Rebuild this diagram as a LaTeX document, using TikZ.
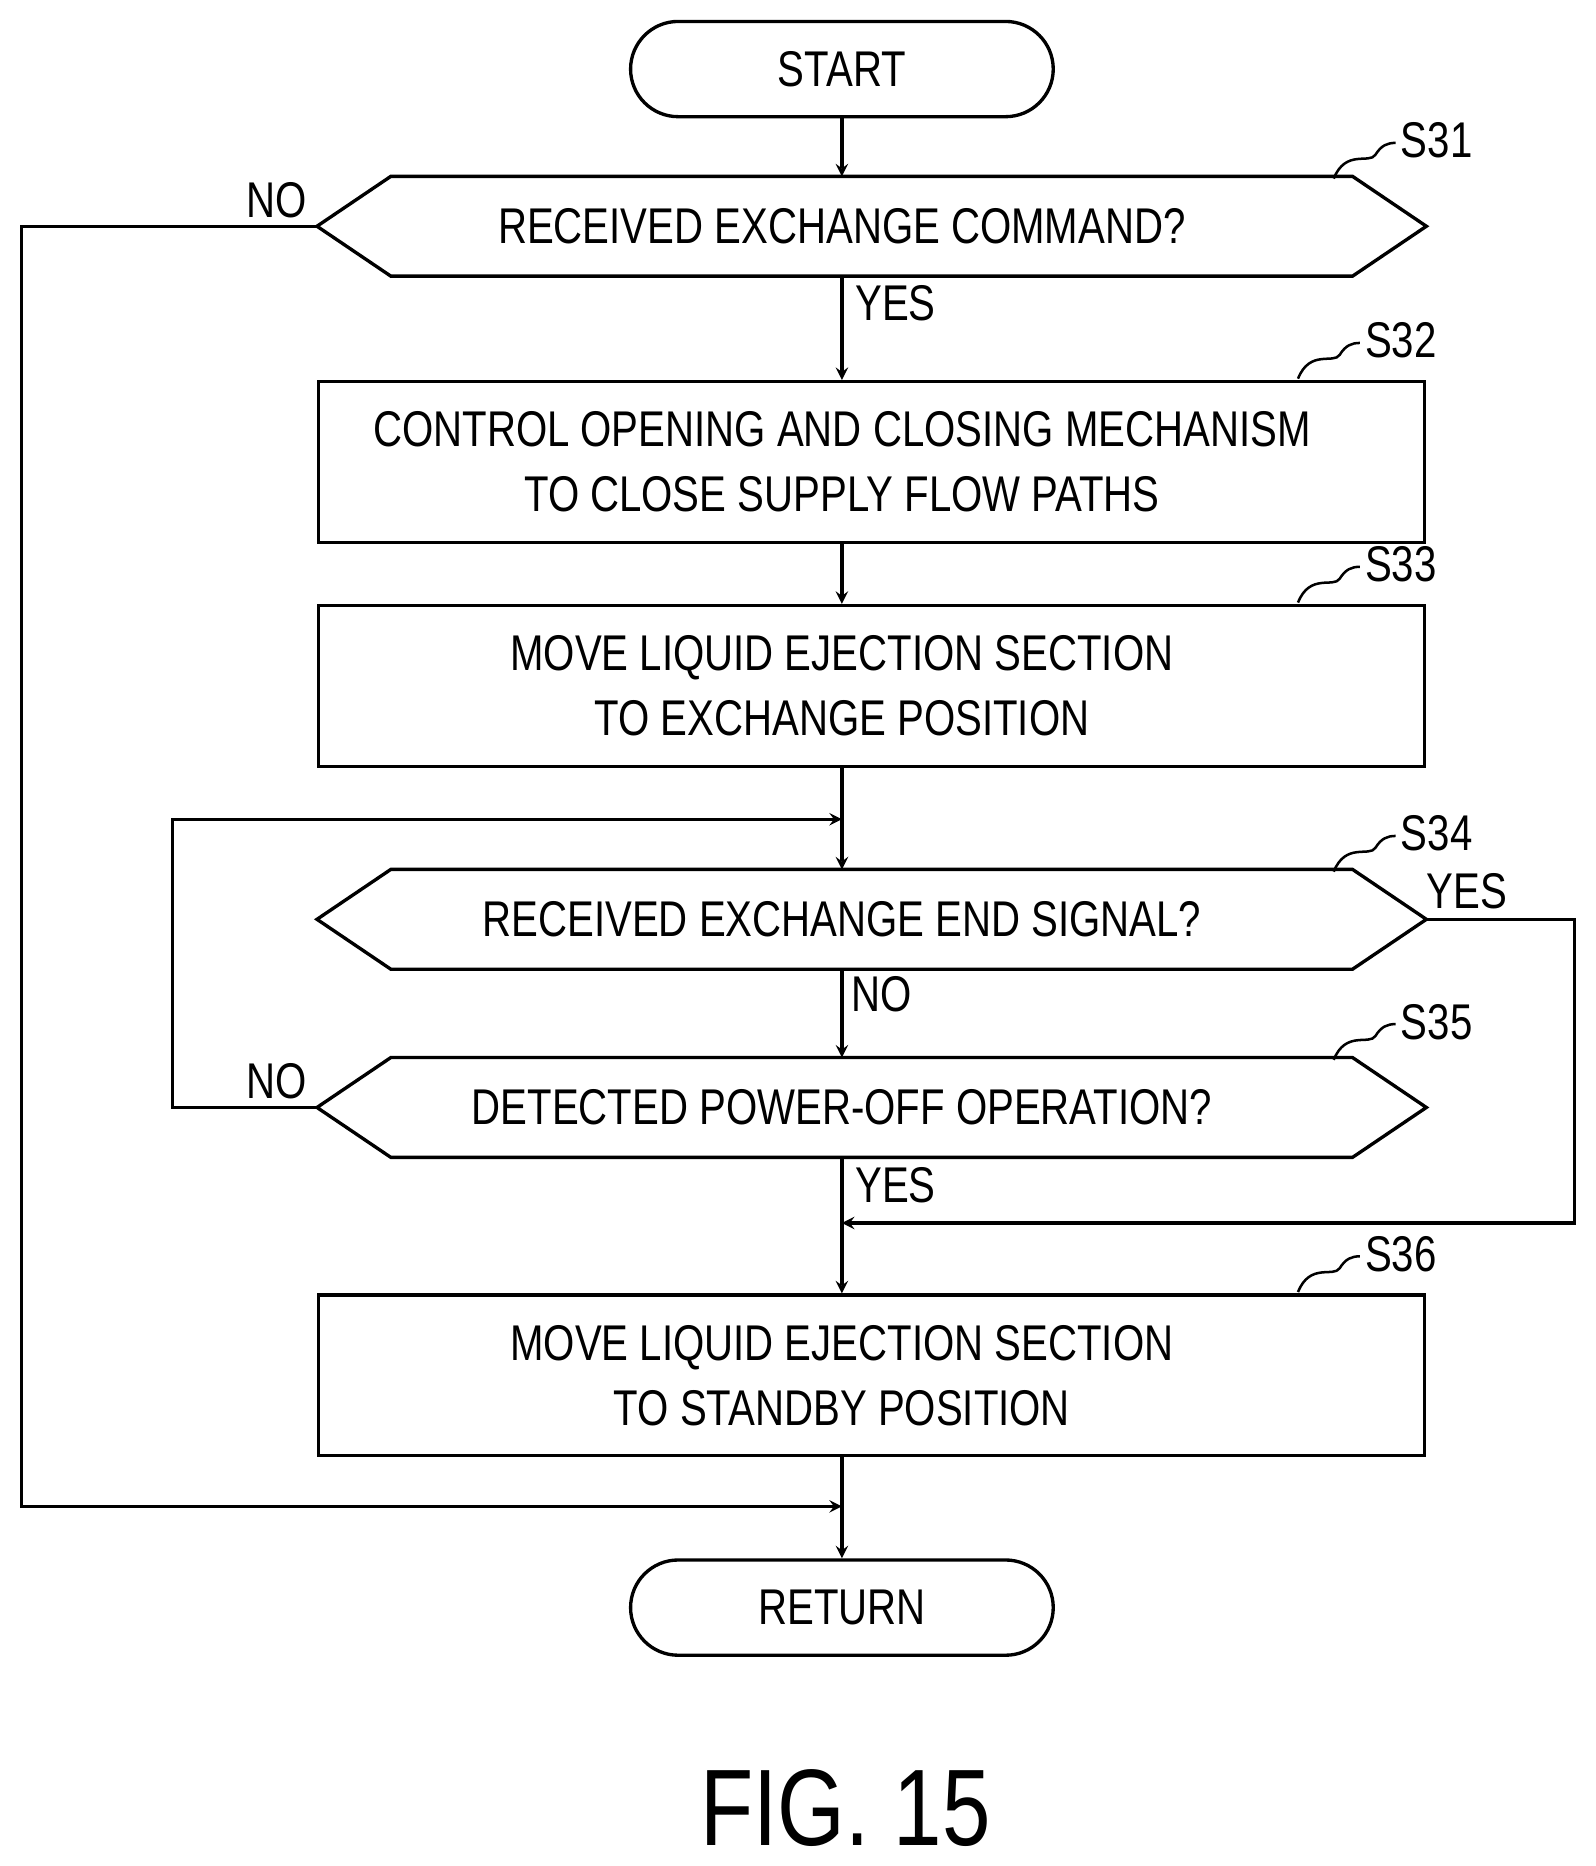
\documentclass[tikz,border=0pt]{standalone}
\usepackage{fontspec}
\setmainfont{Liberation Sans}[FakeStretch=0.8]
\begin{document}
\begin{tikzpicture}[x=0.02cm,y=-0.02cm,line width=1.6pt,
  txt/.style={font=\fontsize{24}{30}\selectfont,align=center,inner sep=0},
  box/.style={draw,rectangle,minimum width=18.58cm,minimum height=2.7cm,txt},
  term/.style={draw,rounded corners=0.8cm,minimum width=7.1cm,minimum height=1.6cm,txt},
  hexn/.style={rectangle,minimum width=18.58cm,minimum height=1.62cm,txt},
  in/.style={label={[txt,xshift=-0.5cm]center:#1}},
  arr/.style={->,>=stealth},
  lab/.style={txt,anchor=west}]
\useasboundingbox (0,0) rectangle (1340,1567);
\node[term] (start) at (707,58) {START};
\node[hexn,in={RECEIVED EXCHANGE COMMAND?}] (s31) at (732,190) {};
\node[box,in={CONTROL OPENING AND CLOSING MECHANISM\\[1pt]TO CLOSE SUPPLY FLOW PATHS}] (s32) at (732,388) {};
\node[box,in={MOVE LIQUID EJECTION SECTION\\[1pt]TO EXCHANGE POSITION}] (s33) at (732,576) {};
\node[hexn,in={RECEIVED EXCHANGE END SIGNAL?}] (s34) at (732,772) {};
\node[hexn,in={DETECTED POWER-OFF OPERATION?}] (s35) at (732,930) {};
\node[box,in={MOVE LIQUID EJECTION SECTION\\[1pt]TO STANDBY POSITION}] (s36) at (732,1155) {};
\node[term] (ret) at (707,1350) {RETURN};
\foreach \h in {s31,s34,s35}{
  \draw (\h.west) -- ([xshift=62*0.02cm]\h.north west) -- ([xshift=-62*0.02cm]\h.north east) -- (\h.east)
        -- ([xshift=-62*0.02cm]\h.south east) -- ([xshift=62*0.02cm]\h.south west) -- cycle;}
\coordinate (m1) at (707,688);
\coordinate (m2) at (707,1027);
\coordinate (m3) at (707,1265);
\draw[arr] (start) -- (start|-s31.north);
\draw[arr] (start|-s31.south) -- (start|-s32.north);
\draw[arr] (start|-s32.south) -- (start|-s33.north);
\draw (start|-s33.south) -- (m1);
\draw[arr] (m1) -- (start|-s34.north);
\draw[arr] (start|-s34.south) -- (start|-s35.north);
\draw (start|-s35.south) -- (m2);
\draw[arr] (m2) -- (start|-s36.north);
\draw (start|-s36.south) -- (m3);
\draw[arr] (m3) -- (ret);
\draw[arr] (s31.west) -- (18,190) -- (18,1265) -- (m3);
\draw[arr] (s35.west) -- (145,930) -- (145,688) -- (m1);
\draw[arr] (s34.east) -- (1322,772) -- (1322,1027) -- (m2);
\node[txt] at (232,168) {NO};
\node[txt] at (752,255) {YES};
\node[txt] at (1232,748) {YES};
\node[txt] at (740,835) {NO};
\node[txt] at (232,908) {NO};
\node[txt] at (752,995) {YES};
\foreach \x/\y/\t in {1120/150/S31,1090/318/S32,1090/506/S33,1120/732/S34,1120/890/S35,1090/1085/S36}{
  \draw[line width=1.2pt] (\x,\y) .. controls (\x+10,\y-25) and (\x+30,\y-12) .. (\x+35,\y-20) .. controls (\x+40,\y-28) and (\x+45,\y-30) .. (\x+52,\y-30);
  \node[lab] at (\x+55,\y-32) {\t};}
\node[font=\fontsize{52}{60}\selectfont] (fig) at (710,1518) {FIG. 15};
\end{tikzpicture}
\end{document}
